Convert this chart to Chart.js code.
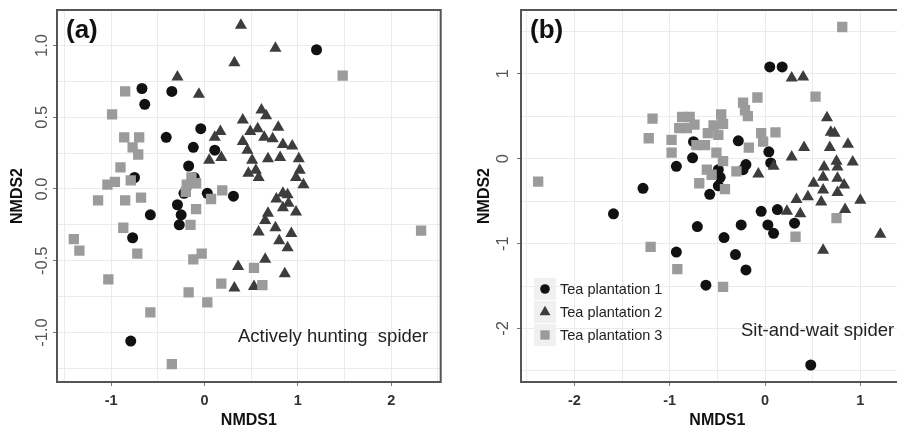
<!DOCTYPE html>
<html>
<head>
<meta charset="utf-8">
<script src="https://cdn.jsdelivr.net/npm/chart.js@4.4.1/dist/chart.umd.min.js"></script>
<style>
  html, body { margin: 0; padding: 0; background: #fff; overflow: hidden; }
  #wrap { position: relative; width: 897px; height: 425px; overflow: hidden; }
  canvas { position: absolute; top: 0; }
  #chartA { left: 0; }
  #chartB { left: 448px; }
</style>
</head>
<body>
<div id="wrap">
  <canvas id="chartA" width="448" height="425"></canvas>
  <canvas id="chartB" width="473" height="425"></canvas>
</div>
<script>
// (a) actively hunting spider - [NMDS1, NMDS2]
const hunting1 = [[1.20,0.97],[-0.67,0.70],[-0.64,0.59],[-0.35,0.68],[-0.41,0.36],[-0.04,0.42],[-0.12,0.29],[0.11,0.27],[-0.17,0.16],[-0.75,0.08],[-0.11,0.08],[0.03,-0.03],[-0.22,-0.03],[0.31,-0.05],[-0.29,-0.11],[-0.58,-0.18],[-0.25,-0.18],[-0.27,-0.25],[-0.77,-0.34],[-0.79,-1.06]];
const hunting2 = [[0.39,1.14],[0.76,0.98],[0.32,0.88],[-0.29,0.78],[-0.06,0.66],[0.61,0.55],[0.66,0.51],[0.41,0.48],[0.17,0.40],[0.11,0.36],[0.49,0.40],[0.57,0.42],[0.79,0.43],[0.41,0.33],[0.64,0.36],[0.73,0.35],[0.84,0.31],[0.94,0.30],[0.05,0.20],[0.18,0.22],[0.46,0.27],[0.51,0.20],[0.68,0.21],[0.81,0.22],[1.01,0.21],[0.47,0.11],[0.55,0.13],[0.58,0.08],[1.02,0.13],[0.98,0.08],[1.06,0.03],[0.84,-0.03],[0.89,-0.04],[0.77,-0.07],[0.90,-0.10],[0.84,-0.13],[0.98,-0.16],[0.68,-0.17],[0.65,-0.22],[0.58,-0.30],[0.76,-0.27],[0.93,-0.31],[0.80,-0.36],[0.89,-0.41],[0.36,-0.54],[0.65,-0.49],[0.86,-0.59],[0.32,-0.69],[0.53,-0.68]];
const hunting3 = [[1.48,0.79],[-0.85,0.68],[-0.99,0.52],[-0.86,0.36],[-0.70,0.36],[-0.77,0.29],[-0.71,0.24],[-0.90,0.15],[-0.96,0.05],[-1.04,0.03],[-0.79,0.06],[-1.14,-0.08],[-0.85,-0.08],[-0.68,-0.06],[-0.14,0.08],[-0.19,0.03],[-0.09,0.04],[-0.20,-0.02],[0.19,-0.01],[0.07,-0.07],[-0.09,-0.14],[-0.15,-0.25],[-0.87,-0.27],[-1.40,-0.35],[-1.34,-0.43],[-0.72,-0.45],[-0.03,-0.45],[-0.12,-0.49],[0.53,-0.55],[-1.03,-0.63],[0.18,-0.66],[0.62,-0.67],[-0.17,-0.72],[0.03,-0.79],[-0.58,-0.86],[-0.35,-1.22],[2.32,-0.29]];

// (b) sit-and-wait spider
const sitwait1 = [[0.05,1.08],[0.18,1.08],[-0.75,0.20],[-0.28,0.21],[-0.76,0.01],[0.04,0.08],[0.06,-0.05],[-0.93,-0.09],[-0.20,-0.07],[-0.23,-0.13],[-0.49,-0.13],[-0.47,-0.22],[-0.49,-0.32],[-1.28,-0.35],[-0.58,-0.42],[-1.59,-0.65],[-0.04,-0.62],[0.13,-0.60],[-0.25,-0.78],[0.03,-0.78],[0.09,-0.88],[0.31,-0.76],[-0.71,-0.80],[-0.43,-0.93],[-0.93,-1.10],[-0.31,-1.13],[-0.20,-1.31],[-0.62,-1.49],[0.48,-2.43]];
const sitwait2 = [[0.28,0.95],[0.40,0.96],[0.65,0.48],[0.69,0.31],[0.73,0.30],[0.41,0.13],[0.28,0.02],[0.68,0.13],[0.87,0.17],[0.92,-0.04],[0.09,-0.09],[-0.07,-0.18],[0.62,-0.10],[0.75,-0.03],[0.76,-0.10],[0.61,-0.22],[0.51,-0.29],[0.76,-0.23],[0.83,-0.31],[0.76,-0.40],[0.61,-0.37],[0.59,-0.51],[0.45,-0.45],[0.33,-0.48],[1.00,-0.49],[0.23,-0.62],[0.37,-0.65],[0.84,-0.60],[1.21,-0.89],[0.61,-1.08]];
const sitwait3 = [[0.81,1.55],[-2.38,-0.27],[-1.18,0.47],[-1.22,0.24],[-0.98,0.22],[-0.98,0.07],[-0.90,0.36],[-0.87,0.49],[-0.79,0.49],[-0.82,0.36],[-0.74,0.40],[-0.72,0.16],[-0.63,0.16],[-0.60,0.30],[-0.54,0.39],[-0.46,0.52],[-0.44,0.41],[-0.49,0.28],[-0.51,0.07],[-0.44,-0.03],[-0.61,-0.13],[-0.56,-0.19],[-0.69,-0.29],[-0.42,-0.36],[-0.30,-0.15],[-0.23,0.66],[-0.21,0.57],[-0.18,0.50],[-0.08,0.72],[-0.04,0.30],[0.11,0.31],[-0.02,0.20],[-0.17,0.13],[0.53,0.73],[0.75,-0.70],[0.32,-0.92],[-1.20,-1.04],[-0.92,-1.30],[-0.44,-1.51]];

const seriesNames = ['Tea plantation 1', 'Tea plantation 2', 'Tea plantation 3'];

// grid / tick values
const gridXA = [-1.5, -1, -0.5, 0, 0.5, 1, 1.5, 2, 2.5];
const ticksXA = [-1, 0, 1, 2];
const gridYA = [-1.25, -1, -0.75, -0.5, -0.25, 0, 0.25, 0.5, 0.75, 1];
const ticksYA = [-1, -0.5, 0, 0.5, 1];
const gridXB = [-2.5, -2, -1.5, -1, -0.5, 0, 0.5, 1, 1.5];
const ticksXB = [-2, -1, 0, 1];
const gridYB = [-2.5, -2, -1.5, -1, -0.5, 0, 0.5, 1, 1.5];
const ticksYB = [-2, -1, 0, 1];

const FONT = '"Liberation Sans", Arial, sans-serif';
const markers = [
  { style: 'circle', radius: 5.5, color: '#111111', order: 2, legendRadius: 4.8 },
  { style: 'triangle', radius: 7, color: '#3d3d3d', order: 1, legendRadius: 6.3 },
  { style: 'rect', radius: 7.3, color: '#9b9b9b', order: 0, legendRadius: 6.6 }
];

// frame, rotated y labels, panel letter, note text, legend
const panelDecor = {
  id: 'panelDecor',
  afterDraw(chart, args, opts) {
    const { ctx, chartArea: a, scales } = chart;
    ctx.save();
    ctx.strokeStyle = '#555';
    ctx.lineWidth = 2;
    ctx.strokeRect(a.left, a.top, a.right - a.left, a.bottom - a.top);

    ctx.fillStyle = '#555';
    ctx.font = '16.5px ' + FONT;
    ctx.textAlign = 'center';
    ctx.textBaseline = 'middle';
    opts.yLabels.forEach(v => {
      const y = scales.y.getPixelForValue(v);
      ctx.save();
      ctx.translate(opts.yLabelX, y);
      ctx.rotate(-Math.PI / 2);
      ctx.fillText(opts.yFormat(v), 0, 0);
      ctx.restore();
    });

    ctx.fillStyle = '#111';
    ctx.font = 'bold 26px ' + FONT;
    ctx.textAlign = 'left';
    ctx.fillText(opts.tag, opts.tagX, 31);

    ctx.fillStyle = '#222';
    ctx.font = '18.5px ' + FONT;
    ctx.textBaseline = 'alphabetic';
    ctx.fillText(opts.note, opts.noteX, opts.noteY);

    if (opts.legend) {
      const lg = opts.legend;
      chart.data.datasets.forEach((ds, i) => {
        const cy = lg.y + i * lg.step;
        ctx.fillStyle = '#f0f0f0';
        ctx.fillRect(lg.x - 11, cy - 11, 22, 22);
        ctx.fillStyle = ds.backgroundColor;
        Chart.helpers.drawPoint(ctx, { pointStyle: ds.pointStyle, radius: markers[i].legendRadius, borderWidth: 0, rotation: 0 }, lg.x, cy);
        ctx.fillStyle = '#222';
        ctx.font = '14.5px ' + FONT;
        ctx.textAlign = 'left';
        ctx.textBaseline = 'middle';
        ctx.fillText(ds.label, lg.x + 15, cy + 1);
      });
    }
    ctx.restore();
  }
};

function makePanel(id, cfg) {
  const datasets = cfg.series.map((pts, i) => ({
    label: seriesNames[i],
    data: pts.map(p => ({ x: p[0], y: p[1] })),
    pointStyle: markers[i].style,
    pointRadius: markers[i].radius,
    backgroundColor: markers[i].color,
    borderColor: markers[i].color,
    borderWidth: 0,
    order: markers[i].order
  }));

  return new Chart(document.getElementById(id), {
    type: 'scatter',
    data: { datasets },
    options: {
      responsive: false,
      animation: false,
      devicePixelRatio: 1,
      events: [],
      layout: { padding: { top: 10, right: cfg.padRight, left: 0, bottom: 0 } },
      plugins: {
        legend: { display: false },
        tooltip: { enabled: false },
        panelDecor: cfg.decor
      },
      scales: {
        x: {
          type: 'linear',
          min: cfg.xMin,
          max: cfg.xMax,
          afterBuildTicks: s => { s.ticks = cfg.gridX.map(v => ({ value: v })); },
          afterFit: s => { s.height = 43; },
          border: { display: false },
          grid: {
            color: '#ebebeb',
            tickLength: 4,
            tickColor: c => cfg.ticksX.includes(c.tick && c.tick.value) ? '#777' : 'rgba(0,0,0,0)'
          },
          ticks: {
            autoSkip: false,
            maxRotation: 0,
            padding: 6,
            color: '#333',
            font: { family: FONT, size: 14.5, weight: 'bold' },
            callback: v => cfg.ticksX.includes(v) ? String(v) : ''
          },
          title: {
            display: true,
            text: 'NMDS1',
            color: '#111',
            font: { family: FONT, size: 16, weight: 'bold', lineHeight: 0.5 },
            padding: { top: 0, bottom: 0 }
          }
        },
        y: {
          type: 'linear',
          min: cfg.yMin,
          max: cfg.yMax,
          afterBuildTicks: s => { s.ticks = cfg.gridY.map(v => ({ value: v })); },
          afterFit: s => { s.width = cfg.yAxisWidth; },
          border: { display: false },
          grid: {
            color: '#ebebeb',
            tickLength: 4,
            tickColor: c => cfg.decor.yLabels.includes(c.tick && c.tick.value) ? '#777' : 'rgba(0,0,0,0)'
          },
          ticks: { display: false },
          title: {
            display: true,
            text: 'NMDS2',
            color: '#111',
            font: { family: FONT, size: 16, weight: 'bold', lineHeight: 0.8 },
            padding: { top: cfg.yTitlePad, bottom: 0 }
          }
        }
      }
    },
    plugins: [panelDecor]
  });
}

makePanel('chartA', {
  series: [hunting1, hunting2, hunting3],
  xMin: -1.58, xMax: 2.53, yMin: -1.345, yMax: 1.247,
  gridX: gridXA, ticksX: ticksXA, gridY: gridYA,
  yAxisWidth: 57, padRight: 6, yTitlePad: 11,
  decor: {
    yLabels: ticksYA, yLabelX: 42, yFormat: v => v.toFixed(1),
    tag: '(a)', tagX: 66,
    note: 'Actively hunting  spider', noteX: 238, noteY: 342
  }
});

makePanel('chartB', {
  series: [sitwait1, sitwait2, sitwait3],
  xMin: -2.56, xMax: 1.56, yMin: -2.63, yMax: 1.75,
  gridX: gridXB, ticksX: ticksXB, gridY: gridYB,
  yAxisWidth: 73, padRight: 0, yTitlePad: 30,
  decor: {
    yLabels: ticksYB, yLabelX: 55, yFormat: v => String(v),
    tag: '(b)', tagX: 82,
    note: 'Sit-and-wait spider', noteX: 293, noteY: 336,
    legend: { x: 97, y: 289, step: 23 }
  }
});
</script>
</body>
</html>
